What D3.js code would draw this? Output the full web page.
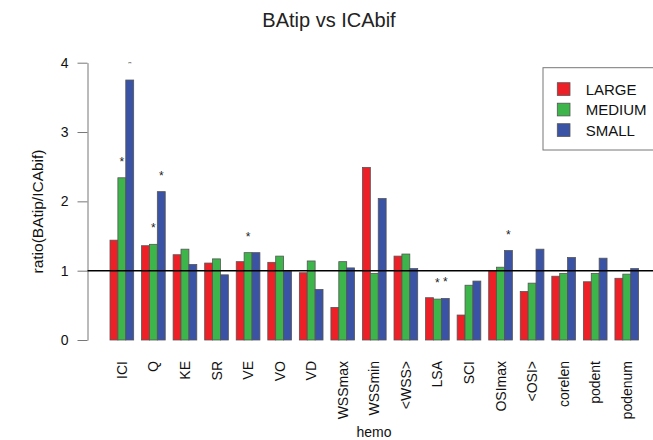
<!DOCTYPE html>
<html>
<head>
<meta charset="utf-8">
<script src="https://cdn.jsdelivr.net/npm/d3@7"></script>
<style>
  html, body { margin: 0; padding: 0; background: #fff; }
  svg { display: block; font-family: "Liberation Sans", Arial, Helvetica, sans-serif; }
</style>
</head>
<body>
<svg id="chart" width="653" height="440"></svg>
<script>
const categories = ["ICI","Q","KE","SR","VE","VO","VD","WSSmax","WSSmin","<WSS>","LSA","SCI","OSImax","<OSI>","corelen","podent","podenum"];
const seriesNames = ["LARGE","MEDIUM","SMALL"];
const largeValues  = [1.44,1.36,1.23,1.11,1.13,1.12,0.97,0.47,2.49,1.21,0.61,0.36,1.00,0.70,0.92,0.84,0.89];
const mediumValues = [2.34,1.38,1.31,1.17,1.26,1.21,1.14,1.13,0.96,1.24,0.59,0.79,1.05,0.82,0.96,0.96,0.95];
const smallValues  = [3.75,2.14,1.09,0.94,1.26,0.99,0.73,1.04,2.04,1.03,0.60,0.85,1.29,1.31,1.19,1.18,1.03];
const sigMedium = ["ICI","Q","VE","LSA"];
const sigSmall  = ["ICI","Q","LSA","OSImax"];
const yTicks = [0,1,2,3,4];
const refValue = 1;
const colors = ["#EE2027","#3DB54A","#3A53A4"];

const seriesValues = [largeValues, mediumValues, smallValues];
const sigSets = [[], sigMedium, sigSmall];

const svg = d3.select("#chart");

const y = d3.scaleLinear().domain([0, 4]).range([340, 62.7]);
const x0 = d3.scaleBand().domain(categories).range([110, 638.6]).paddingInner(0.25).paddingOuter(0);
const x1 = d3.scaleBand().domain(seriesNames).range([0, x0.bandwidth()]).padding(0);

// title
svg.append("text")
  .attr("x", 329).attr("y", 27)
  .attr("text-anchor", "middle")
  .attr("font-size", 20)
  .attr("fill", "#222")
  .text("BAtip vs ICAbif");

// bars
const rows = categories.map((c, i) => ({ cat: c, vals: seriesNames.map((s, j) => ({ s, j, v: seriesValues[j][i] })) }));
const g = svg.append("g").selectAll("g").data(rows).join("g")
  .attr("transform", d => `translate(${x0(d.cat)},0)`);
g.selectAll("rect").data(d => d.vals).join("rect")
  .attr("x", d => x1(d.s))
  .attr("y", d => y(d.v))
  .attr("width", x1.bandwidth())
  .attr("height", d => y(0) - y(d.v))
  .attr("fill", d => colors[d.j])
  .attr("stroke", "#555")
  .attr("stroke-width", 0.8);

// y axis
const yAxis = d3.axisLeft(y).tickValues(yTicks).tickFormat(d3.format("d")).tickSize(10).tickSizeOuter(0).tickPadding(9);
const ya = svg.append("g").attr("transform", "translate(87.5,0)").call(yAxis);
ya.select(".domain").attr("stroke", "#777");
ya.selectAll(".tick line").attr("stroke", "#777");
ya.selectAll(".tick text").attr("font-size", 14).attr("fill", "#111").style("font-family", "Liberation Sans, Arial, sans-serif");

// reference line
svg.append("line")
  .attr("x1", 87.5).attr("x2", 653)
  .attr("y1", y(refValue)).attr("y2", y(refValue))
  .attr("stroke", "#000").attr("stroke-width", 1.6);

// asterisks (clipped to plot region)
svg.append("clipPath").attr("id", "plotclip")
  .append("rect").attr("x", 0).attr("y", y(4) - 0.5).attr("width", 653).attr("height", 440);
const stars = [];
categories.forEach((c, i) => {
  seriesNames.forEach((s, j) => {
    if (sigSets[j].includes(c)) stars.push({ c, s, v: seriesValues[j][i] });
  });
});
svg.append("g").attr("clip-path", "url(#plotclip)")
  .selectAll("text").data(stars).join("text")
  .attr("x", d => x0(d.c) + x1(d.s) + x1.bandwidth() / 2)
  .attr("y", d => y(d.v) - 12)
  .attr("text-anchor", "middle")
  .attr("font-size", 12)
  .attr("fill", "#222")
  .text("*");

// category labels
svg.append("g").selectAll("text").data(categories).join("text")
  .attr("transform", d => `translate(${x0(d) + x0.bandwidth() / 2},361) rotate(-90)`)
  .attr("text-anchor", "end")
  .attr("dominant-baseline", "central")
  .attr("font-size", 14)
  .attr("fill", "#111")
  .text(d => d);

// axis titles
svg.append("text")
  .attr("transform", "translate(37.7,211.5) rotate(-90)")
  .attr("text-anchor", "middle")
  .attr("dominant-baseline", "central")
  .attr("font-size", 15.5)
  .attr("fill", "#111")
  .text("ratio(BAtip/ICAbif)");
svg.append("text")
  .attr("x", 374).attr("y", 437)
  .attr("text-anchor", "middle")
  .attr("font-size", 14)
  .attr("fill", "#111")
  .text("hemo");

// legend
const leg = svg.append("g");
leg.append("rect")
  .attr("x", 543).attr("y", 67.7).attr("width", 130).attr("height", 82.3)
  .attr("fill", "#fff").attr("stroke", "#777").attr("stroke-width", 1);
const legY = d3.scalePoint().domain(seriesNames).range([89, 130]);
leg.selectAll("rect.sw").data(seriesNames).join("rect")
  .attr("class", "sw")
  .attr("x", 557.3).attr("y", d => legY(d) - 6.3)
  .attr("width", 12.7).attr("height", 12.7)
  .attr("fill", (d, i) => colors[i])
  .attr("stroke", "#555").attr("stroke-width", 0.8);
leg.selectAll("text").data(seriesNames).join("text")
  .attr("x", 585.7).attr("y", d => legY(d))
  .attr("dominant-baseline", "central")
  .attr("font-size", 15)
  .attr("fill", "#111")
  .text(d => d);
</script>
</body>
</html>
